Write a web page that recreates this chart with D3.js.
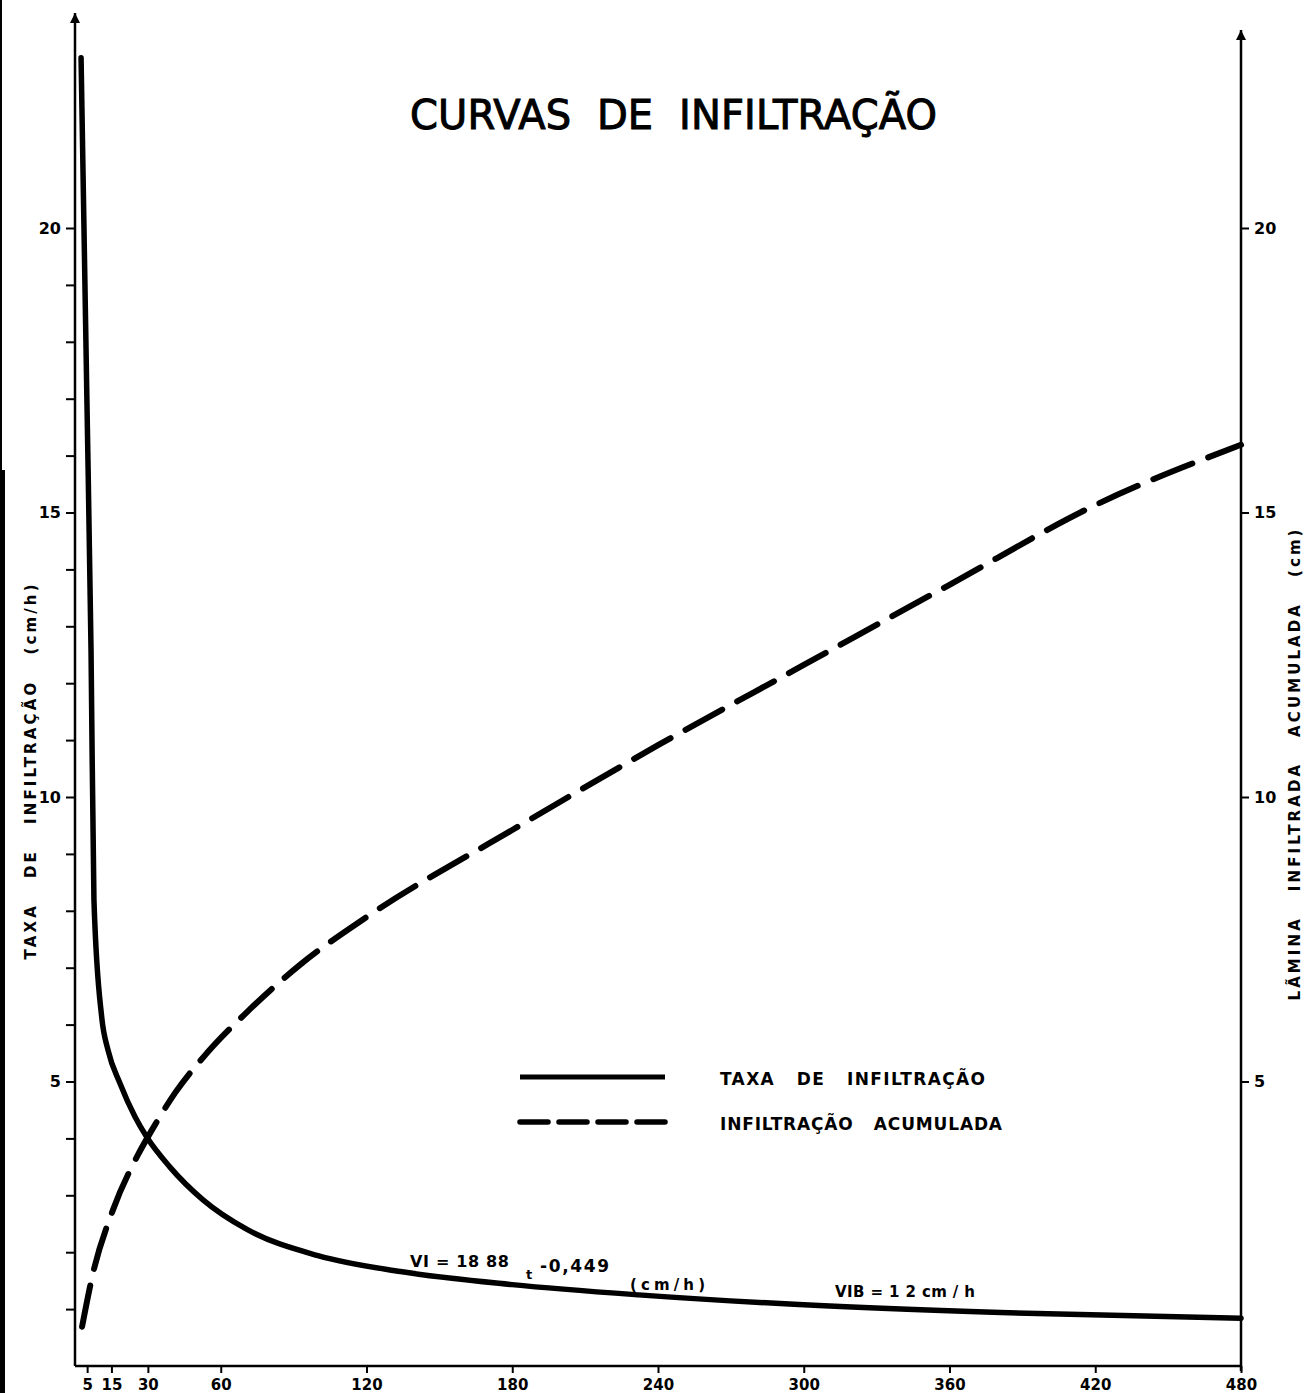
<!DOCTYPE html>
<html>
<head>
<meta charset="utf-8">
<script src="https://cdn.jsdelivr.net/npm/d3@7"></script>
<style>
  body { margin: 0; background: #fff; }
  text { font-family: "DejaVu Sans", sans-serif; fill: #000; white-space: pre; }
</style>
</head>
<body>
<svg id="chart" width="1305" height="1393"></svg>
<script>
// tempo (min) e taxa de infiltracao (cm/h)
var taxaTempo  = [2.5, 4.9, 6.6, 7.8, 11, 13.6, 18.5, 24.7, 29.6, 39, 52.7, 70.8, 100, 134, 180, 232, 298, 381, 480];
var taxaValor  = [22.99, 16.98, 12.58, 8.19, 6.13, 5.55, 4.97, 4.38, 4.02, 3.50, 2.92, 2.40, 1.94, 1.66, 1.43, 1.25, 1.08, 0.94, 0.84];

// tempo (min) e infiltracao acumulada (cm)
var acumTempo  = [2.9, 7.4, 15.6, 25.9, 31.7, 41.2, 54.3, 70.8, 92.6, 120, 180, 240, 300, 360, 420, 480];
var acumValor  = [0.69, 1.63, 2.74, 3.71, 4.15, 4.80, 5.50, 6.22, 7.05, 7.89, 9.42, 10.91, 12.32, 13.73, 15.13, 16.19];

var xTicks     = [5, 15, 30, 60, 120, 180, 240, 300, 360, 420, 480];
var leftTicks  = d3.range(1, 21);
var rightTicks = [5, 10, 15, 20];

var svg = d3.select('#chart');

// margem escura do scan
svg.append('rect').attr('x', 0).attr('y', 0).attr('width', 2).attr('height', 470).attr('fill', '#000');
svg.append('rect').attr('x', 0).attr('y', 470).attr('width', 5).attr('height', 923).attr('fill', '#000');

var x = d3.scaleLinear().domain([0, 480]).range([75, 1241]);
var y = d3.scaleLinear().domain([0, 20]).range([1366, 228]);   // eixo esquerdo (cm/h)
var y2 = d3.scaleLinear().domain([0, 20]).range([1366, 228]);  // eixo direito (cm)

// ponta de seta dos eixos
svg.append('defs').append('marker')
    .attr('id', 'seta')
    .attr('viewBox', '0 0 10 10')
    .attr('refX', 10).attr('refY', 5)
    .attr('markerWidth', 14).attr('markerHeight', 10)
    .attr('markerUnits', 'userSpaceOnUse')
    .attr('orient', 'auto')
    .append('path')
    .attr('d', 'M0,0 L10,5 L0,10 Z')
    .attr('fill', '#000');

// eixos (linhas)
svg.append('line')
    .attr('x1', x(0)).attr('y1', y(0)).attr('x2', x(0)).attr('y2', 13)
    .attr('stroke', '#000').attr('stroke-width', 2.5)
    .attr('marker-end', 'url(#seta)');
svg.append('line')
    .attr('x1', x(480)).attr('y1', y(0) + 5).attr('x2', x(480)).attr('y2', 30)
    .attr('stroke', '#000').attr('stroke-width', 2.5)
    .attr('marker-end', 'url(#seta)');
svg.append('line')
    .attr('x1', x(0)).attr('y1', y(0)).attr('x2', x(480)).attr('y2', y(0))
    .attr('stroke', '#000').attr('stroke-width', 2.5);

// eixo x
var gx = svg.append('g')
    .attr('transform', `translate(0,${y(0)})`)
    .call(d3.axisBottom(x).tickValues(xTicks).tickSize(7).tickPadding(6));
gx.select('.domain').remove();
gx.selectAll('line').attr('stroke-width', 2);
gx.selectAll('text').style('font-size', '15px').style('font-weight', 'bold');

// eixo esquerdo
var gl = svg.append('g')
    .attr('transform', `translate(${x(0)},0)`)
    .call(d3.axisLeft(y).tickValues(leftTicks).tickSize(9).tickPadding(5)
        .tickFormat(d => d % 5 == 0 ? d : ''));
gl.select('.domain').remove();
gl.selectAll('line').attr('stroke-width', 2);
gl.selectAll('text').style('font-size', '16px').style('font-weight', 'bold');

// eixo direito
var gr = svg.append('g')
    .attr('transform', `translate(${x(480)},0)`)
    .call(d3.axisRight(y2).tickValues(rightTicks).tickSize(8).tickPadding(5));
gr.select('.domain').remove();
gr.selectAll('line').attr('stroke-width', 2);
gr.selectAll('text').style('font-size', '16px').style('font-weight', 'bold');

// titulos dos eixos
svg.append('text')
    .attr('transform', 'translate(36,772) rotate(-90)')
    .attr('text-anchor', 'middle')
    .attr('textLength', 375).attr('lengthAdjust', 'spacing')
    .style('font-size', '15px').style('font-weight', 'bold')
    .text('TAXA   DE   INFILTRAÇÃO   (cm/h)');
svg.append('text')
    .attr('transform', 'translate(1300,765) rotate(-90)')
    .attr('text-anchor', 'middle')
    .attr('textLength', 471).attr('lengthAdjust', 'spacing')
    .style('font-size', '15px').style('font-weight', 'bold')
    .text('LÃMINA   INFILTRADA   ACUMULADA   (cm)');

// titulo
svg.append('text')
    .attr('x', 410).attr('y', 129)
    .attr('textLength', 527).attr('lengthAdjust', 'spacing')
    .attr('stroke', '#000').attr('stroke-width', 1)
    .style('font-size', '40px')
    .text('CURVAS  DE  INFILTRAÇÃO');

// curvas
var taxa = taxaTempo.map((t, i) => [t, taxaValor[i]]);
var acum = acumTempo.map((t, i) => [t, acumValor[i]]);

svg.append('path')
    .datum(taxa)
    .attr('fill', 'none')
    .attr('stroke', '#000')
    .attr('stroke-width', 5.5)
    .attr('stroke-linecap', 'round')
    .attr('d', d3.line().x(d => x(d[0])).y(d => y(d[1])).curve(d3.curveMonotoneX));

svg.append('path')
    .datum(acum)
    .attr('fill', 'none')
    .attr('stroke', '#000')
    .attr('stroke-width', 6)
    .attr('stroke-linecap', 'round')
    .attr('stroke-dasharray', '42 17')
    .attr('d', d3.line().x(d => x(d[0])).y(d => y2(d[1])).curve(d3.curveMonotoneX));

// legenda
var legenda = svg.append('g');
legenda.append('line')
    .attr('x1', 520).attr('x2', 665).attr('y1', 1077).attr('y2', 1077)
    .attr('stroke', '#000').attr('stroke-width', 5);
legenda.append('line')
    .attr('x1', 520).attr('x2', 665).attr('y1', 1122).attr('y2', 1122)
    .attr('stroke', '#000').attr('stroke-width', 5.5)
    .attr('stroke-linecap', 'round')
    .attr('stroke-dasharray', '28 11');
legenda.append('text')
    .attr('x', 720).attr('y', 1085)
    .attr('textLength', 265).attr('lengthAdjust', 'spacing')
    .style('font-size', '17px').style('font-weight', 'bold')
    .text('TAXA   DE   INFILTRAÇÃO');
legenda.append('text')
    .attr('x', 720).attr('y', 1130)
    .attr('textLength', 282).attr('lengthAdjust', 'spacing')
    .style('font-size', '17px').style('font-weight', 'bold')
    .text('INFILTRAÇÃO   ACUMULADA');

// equacoes
svg.append('text')
    .attr('x', 410).attr('y', 1267)
    .attr('textLength', 99).attr('lengthAdjust', 'spacing')
    .style('font-size', '16px').style('font-weight', 'bold')
    .text('VI = 18 88');
svg.append('text')
    .attr('x', 526).attr('y', 1279)
    .style('font-size', '13px').style('font-weight', 'bold')
    .text('t');
svg.append('text')
    .attr('x', 540).attr('y', 1272)
    .attr('textLength', 69).attr('lengthAdjust', 'spacing')
    .style('font-size', '17px').style('font-weight', 'bold')
    .text('-0,449');
svg.append('text')
    .attr('x', 630).attr('y', 1290)
    .attr('textLength', 75).attr('lengthAdjust', 'spacing')
    .style('font-size', '15px').style('font-weight', 'bold')
    .text('(cm/h)');
svg.append('text')
    .attr('x', 835).attr('y', 1297)
    .attr('textLength', 140).attr('lengthAdjust', 'spacing')
    .style('font-size', '15px').style('font-weight', 'bold')
    .text('VIB = 1 2 cm / h');
</script>
</body>
</html>
